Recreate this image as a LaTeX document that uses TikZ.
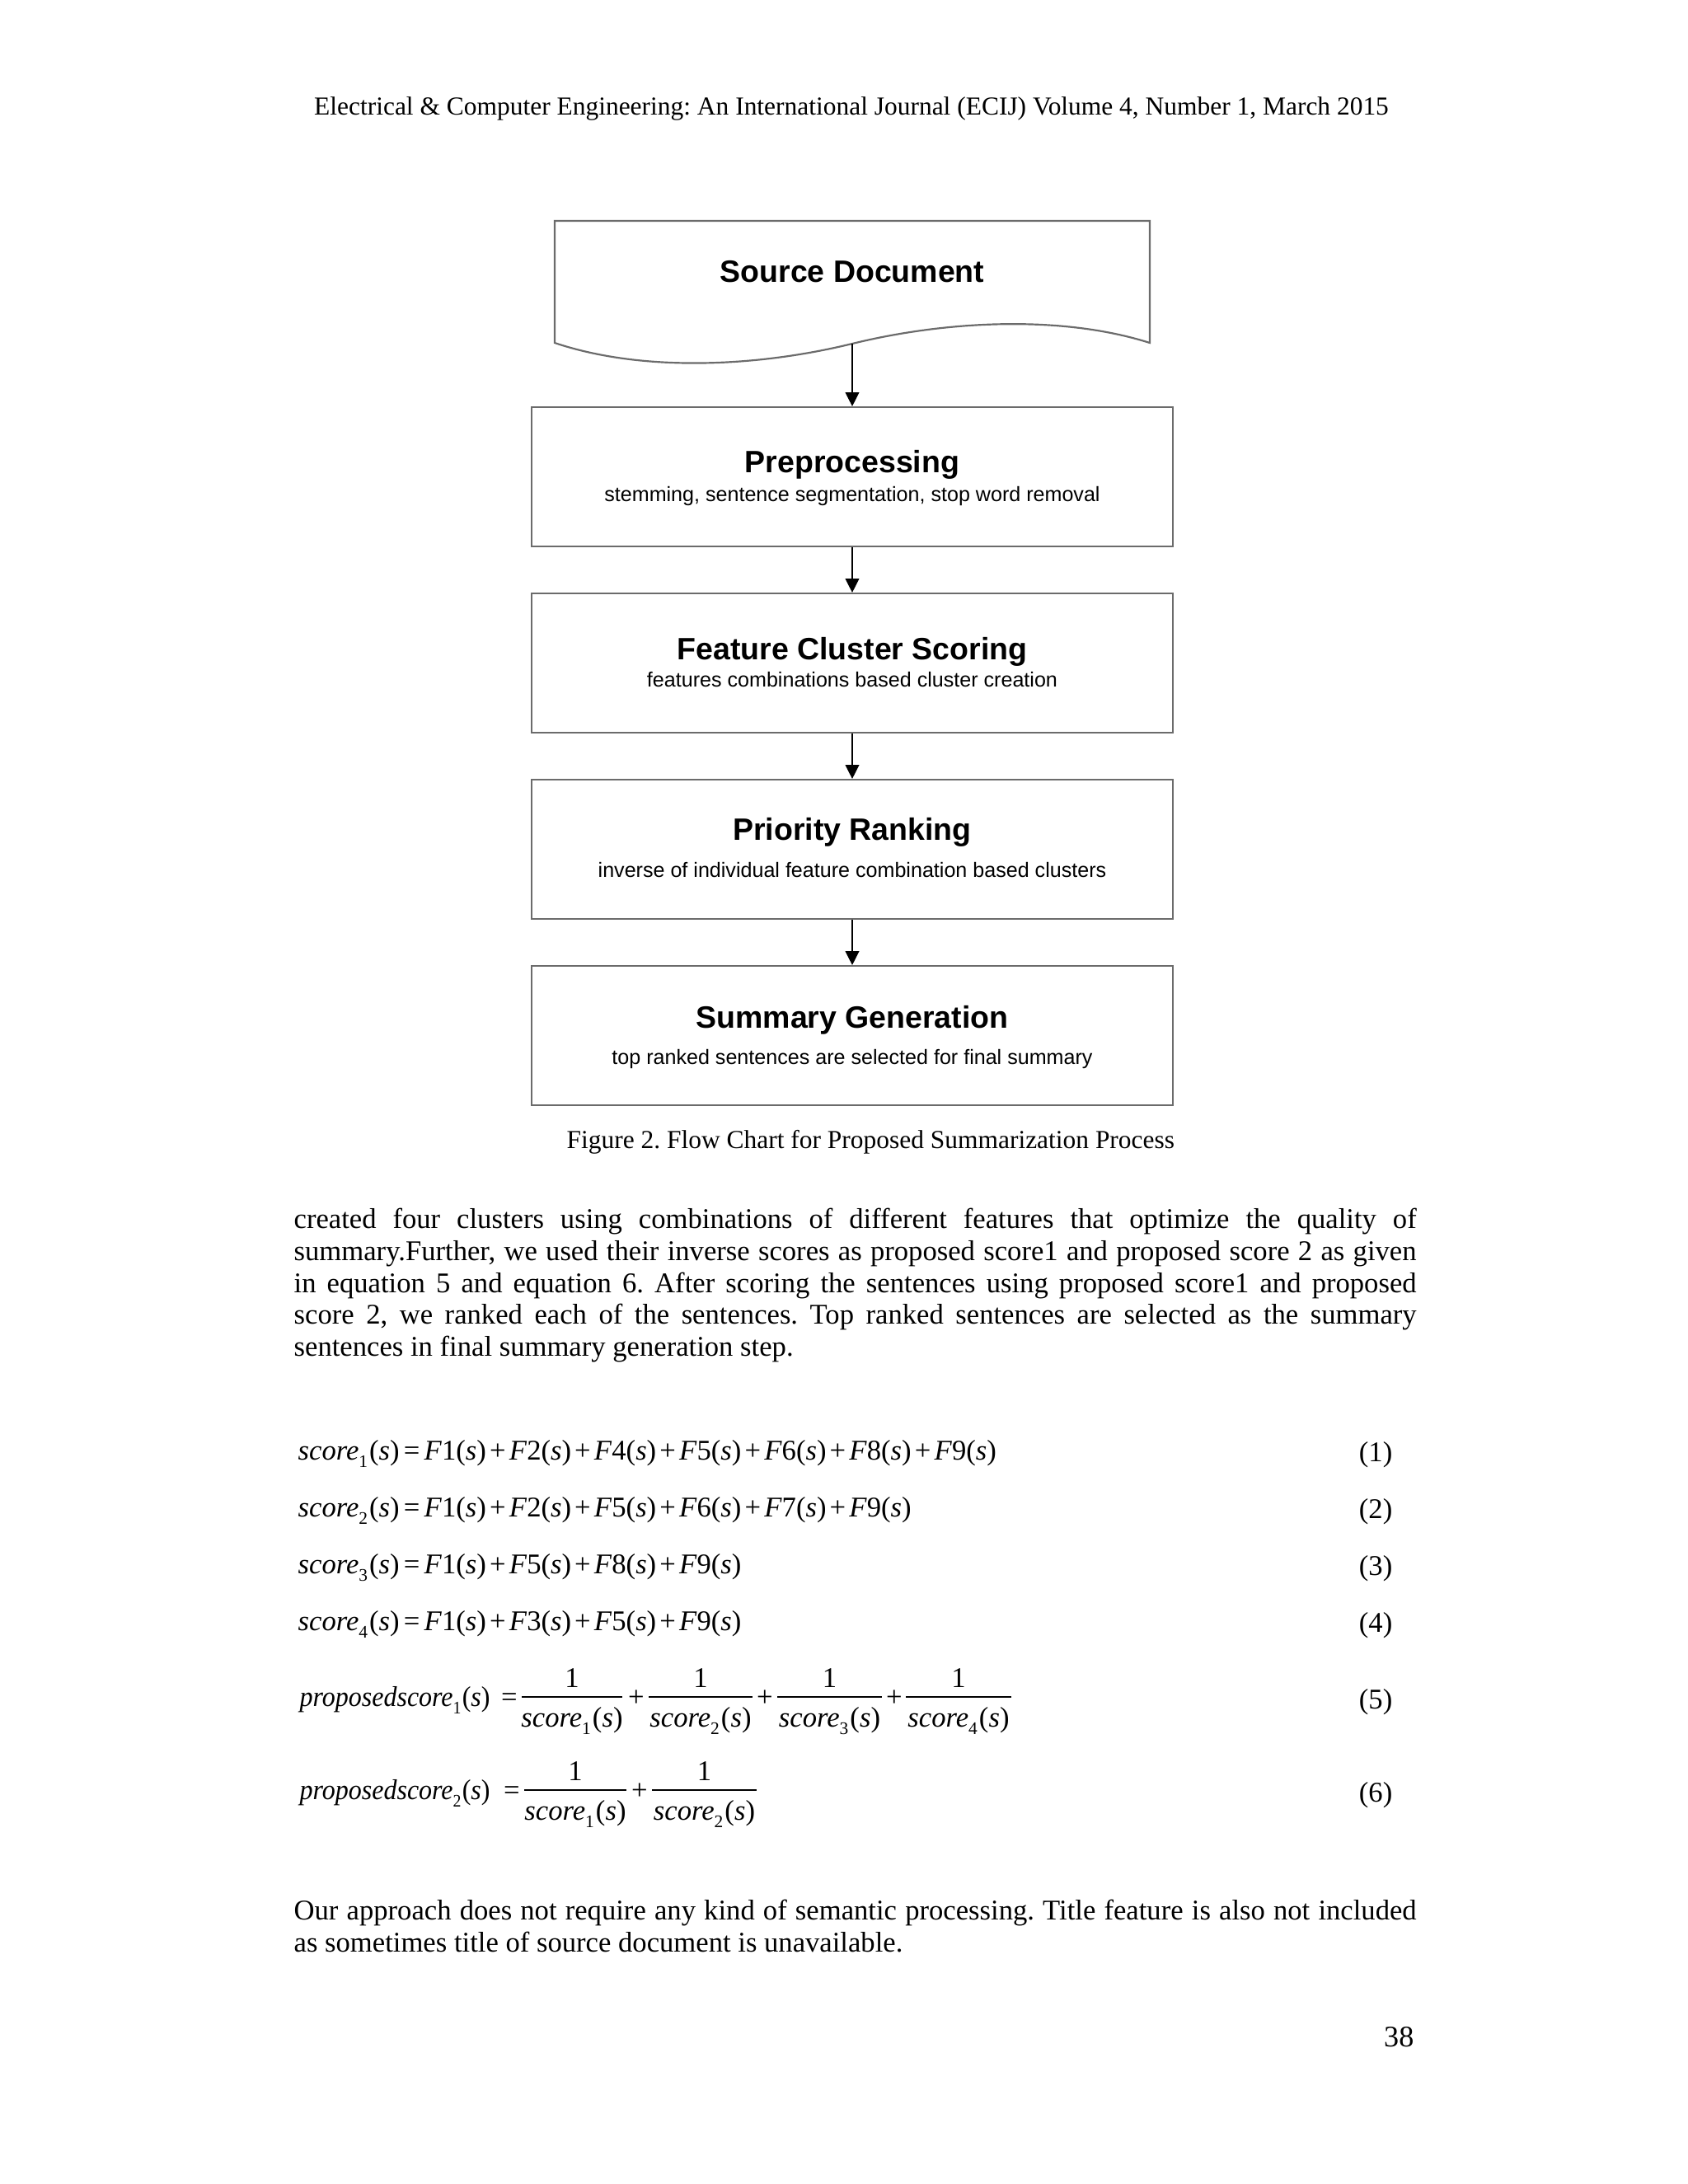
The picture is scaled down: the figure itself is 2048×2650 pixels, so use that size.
\documentclass[tikz,border=0pt]{standalone}
\usepackage{fontspec}
\usepackage{graphicx}
\setmainfont{Liberation Serif}
\newfontfamily\arialf{Liberation Sans}
\usetikzlibrary{arrows.meta}
\frenchspacing
\definecolor{boxgray}{gray}{0.42}
\newcommand\bodyfont{\fontsize{10.35pt}{11.5pt}\selectfont\frenchspacing}
\newcommand\smallserif{\fontsize{9.4pt}{11pt}\selectfont\frenchspacing}
\newcommand\sbx[1]{\raisebox{-0.28em}{\fontsize{6.4pt}{7pt}\selectfont #1}}
\newcommand\scr[1]{\textit{score}\sbx{#1}\kern0.06em(\textit{s})}
\newcommand\Ft[1]{\textit{F}#1(\textit{s})}
\newcommand\pl{\kern0.12em+\kern0.12em}
\newcommand\eqs{\kern0.15em=\kern0.15em}
\newcommand\jl[1]{\hbox to 407pt{#1}}
\newcommand\prop[1]{\resizebox{69pt}{\height}{\textit{proposedscore}\sbx{#1}\kern0.04em(\textit{s})}}
\begin{document}
\begin{tikzpicture}[x=0.29883pt, y=-0.29883pt,
  box/.style={draw=boxgray, line width=0.65pt, minimum width=232.5pt, minimum height=50.5pt, inner sep=0pt},
  ttl/.style={anchor=base, inner sep=0pt, font=\arialf\bfseries\fontsize{11.2pt}{13pt}\selectfont},
  subt/.style={anchor=base, inner sep=0pt, font=\arialf\fontsize{7.5pt}{9pt}\selectfont},
  arr/.style={-{Triangle[width=5pt,length=5pt]}, line width=0.35pt, black},
  txt/.style={anchor=base west, inner sep=0pt, font=\bodyfont},
  txtc/.style={anchor=base, inner sep=0pt, font=\bodyfont},
  eqn/.style={anchor=base east, inner sep=0pt, font=\bodyfont},
  fbar/.style={line width=0.45pt, black}
]
\fill[white] (0,0) rectangle (2048,2650);
\useasboundingbox (0,0) rectangle (2048,2650);

% header
\node[anchor=base, inner sep=0pt, font=\smallserif] (hdr) at (1033,139) {Electrical \& Computer Engineering: An International Journal (ECIJ) Volume 4, Number 1, March 2015};

% document shape
\draw[draw=boxgray, line width=0.65pt] (673,268) -- (1395,268) -- (1395,416)
  .. controls (1288,382) and (1148,389) .. (1034,417)
  .. controls (920,445) and (780,452) .. (673,416) -- cycle;
\coordinate (docb) at (1034,417);
\node[ttl] (doct) at (1034,342) {Source Document};

% process boxes
\node[box] (pre) at (1034,578.5) {};
\node[ttl] (pret) at (1034,573) {Preprocessing};
\node[subt] (pres) at (1034,608) {stemming, sentence segmentation, stop word removal};

\node[box] (feat) at (1034,804.5) {};
\node[ttl] (featt) at (1034,800) {Feature Cluster Scoring};
\node[subt] (feats) at (1034,833) {features combinations based cluster creation};

\node[box] (prio) at (1034,1030.5) {};
\node[ttl] (priot) at (1034,1019) {Priority Ranking};
\node[subt] (prios) at (1034,1064) {inverse of individual feature combination based clusters};

\node[box] (summ) at (1034,1256.5) {};
\node[ttl] (summt) at (1034,1247) {Summary Generation};
\node[subt] (summs) at (1034,1291) {top ranked sentences are selected for final summary};

% connectors
\draw[arr] (docb) -- (pre.north);
\draw[arr] (pre.south) -- (feat.north);
\draw[arr] (feat.south) -- (prio.north);
\draw[arr] (prio.south) -- (summ.north);

% caption
\node[anchor=base west, inner sep=0pt, font=\smallserif] (cap) at (687,1393) {Figure 2. Flow Chart for Proposed Summarization Process};

% paragraph 1
\node[txt] (l1) at (356,1490) {\jl{created four clusters using combinations of different features that optimize the quality of}};
\node[txt] (l2) at (356,1529) {\jl{summary.Further, we used their inverse scores as proposed score1 and proposed score 2 as given}};
\node[txt] (l3) at (356,1568) {\jl{in equation 5 and equation 6. After scoring the sentences using proposed score1 and proposed}};
\node[txt] (l4) at (356,1606) {\jl{score 2, we ranked each of the sentences. Top ranked sentences are selected as the summary}};
\node[txt] (l5) at (356,1645) {sentences in final summary generation step.};

% equations 1-4
\node[txt] (e1) at (361,1771) {\scr{1}\eqs\Ft{1}\pl\Ft{2}\pl\Ft{4}\pl\Ft{5}\pl\Ft{6}\pl\Ft{8}\pl\Ft{9}};
\node[eqn] (n1) at (1690,1773) {(1)};
\node[txt] (e2) at (361,1840) {\scr{2}\eqs\Ft{1}\pl\Ft{2}\pl\Ft{5}\pl\Ft{6}\pl\Ft{7}\pl\Ft{9}};
\node[eqn] (n2) at (1690,1842) {(2)};
\node[txt] (e3) at (361,1909) {\scr{3}\eqs\Ft{1}\pl\Ft{5}\pl\Ft{8}\pl\Ft{9}};
\node[eqn] (n3) at (1690,1911) {(3)};
\node[txt] (e4) at (361,1978) {\scr{4}\eqs\Ft{1}\pl\Ft{3}\pl\Ft{5}\pl\Ft{9}};
\node[eqn] (n4) at (1690,1980) {(4)};

% equation 5
\node[txt] (p1) at (363,2070) {\prop{1}};
\node[txtc] (p1e) at (618,2070) {=};
\node[txtc] (f1n) at (694,2047) {1};
\draw[fbar] (633,2059) -- (755,2059);
\node[txtc] (f1d) at (694,2095) {\scr{1}};
\node[txtc] (f1p) at (772,2070) {+};
\node[txtc] (f2n) at (850,2047) {1};
\draw[fbar] (787,2059) -- (913,2059);
\node[txtc] (f2d) at (850,2095) {\scr{2}};
\node[txtc] (f2p) at (928,2070) {+};
\node[txtc] (f3n) at (1006.5,2047) {1};
\draw[fbar] (943,2059) -- (1070,2059);
\node[txtc] (f3d) at (1006.5,2095) {\scr{3}};
\node[txtc] (f3p) at (1085,2070) {+};
\node[txtc] (f4n) at (1163,2047) {1};
\draw[fbar] (1099,2059) -- (1227,2059);
\node[txtc] (f4d) at (1163,2095) {\scr{4}};
\node[eqn] (n5) at (1690,2073) {(5)};

% equation 6
\node[txt] (p2) at (363,2183) {\prop{2}};
\node[txtc] (p2e) at (621,2183) {=};
\node[txtc] (g1n) at (698,2160) {1};
\draw[fbar] (636,2172) -- (760,2172);
\node[txtc] (g1d) at (698,2208) {\scr{1}};
\node[txtc] (g1p) at (776,2183) {+};
\node[txtc] (g2n) at (854.5,2160) {1};
\draw[fbar] (791,2172) -- (918,2172);
\node[txtc] (g2d) at (854.5,2208) {\scr{2}};
\node[eqn] (n6) at (1690,2186) {(6)};

% paragraph 2
\node[txt] (m1) at (356,2329) {\jl{Our approach does not require any kind of semantic processing. Title feature is also not included}};
\node[txt] (m2) at (356,2368) {as sometimes title of source document is unavailable.};

% page number
\node[anchor=base east, inner sep=0pt, font=\fontsize{10.8pt}{12pt}\selectfont] (pg) at (1716,2483) {38};
\end{tikzpicture}
\end{document}
